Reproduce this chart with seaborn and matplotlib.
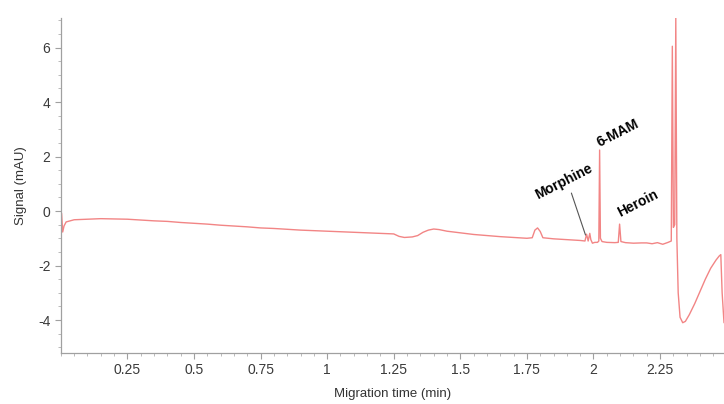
import numpy as np
import pandas as pd
import matplotlib
matplotlib.use("Agg")
import matplotlib.pyplot as plt
from matplotlib.ticker import MultipleLocator
import seaborn as sns

# ── Electropherogram trace ──────────────────────────────────────────────────
time_min = [
    0.000, 0.003, 0.007, 0.012, 0.020, 0.050, 0.100, 0.150, 0.200, 0.250,
    0.300, 0.350, 0.400, 0.450, 0.500, 0.550, 0.600, 0.650, 0.700, 0.750,
    0.800, 0.850, 0.900, 0.950, 1.000, 1.050, 1.100, 1.150, 1.200, 1.250,
    1.270, 1.290, 1.320, 1.340, 1.360, 1.380, 1.400, 1.420, 1.450, 1.500,
    1.550, 1.600, 1.650, 1.700, 1.750, 1.770, 1.780, 1.790, 1.800, 1.810,
    1.850, 1.900, 1.950, 1.968, 1.974, 1.980, 1.986, 1.990, 1.996, 2.005,
    2.015, 2.020, 2.023, 2.026, 2.032, 2.050, 2.080, 2.093, 2.098, 2.103,
    2.120, 2.150, 2.180, 2.200, 2.220, 2.240, 2.260, 2.280, 2.292, 2.296,
    2.300, 2.305, 2.309, 2.313, 2.318, 2.325, 2.335, 2.345, 2.360, 2.380,
    2.400, 2.420, 2.440, 2.460, 2.472, 2.478, 2.483, 2.490,
]
signal_mau = [
    0.00, -0.10, -0.77, -0.55, -0.40, -0.32, -0.30, -0.28, -0.29, -0.30,
    -0.33, -0.36, -0.38, -0.42, -0.45, -0.48, -0.52, -0.55, -0.58, -0.62,
    -0.64, -0.67, -0.70, -0.72, -0.74, -0.76, -0.78, -0.80, -0.82, -0.84,
    -0.93, -0.97, -0.95, -0.90, -0.78, -0.70, -0.66, -0.68, -0.74, -0.80,
    -0.86, -0.90, -0.94, -0.97, -1.00, -0.98, -0.70, -0.62, -0.75, -0.98,
    -1.02, -1.05, -1.08, -1.10, -0.85, -1.10, -0.82, -1.05, -1.18, -1.15,
    -1.15, -1.10, 2.24, -1.00, -1.12, -1.15, -1.16, -1.15, -0.48, -1.12,
    -1.16, -1.18, -1.17, -1.17, -1.20, -1.16, -1.22, -1.15, -1.10, 6.05,
    -0.60, -0.50, 7.10, -1.00, -3.00, -3.90, -4.10, -4.05, -3.80, -3.40,
    -2.95, -2.50, -2.10, -1.80, -1.65, -1.60, -3.00, -4.10,
]

# ── Peak labels ──────────────────────────────────────────────────────────────
peak_names = ["Morphine", "6-MAM", "Heroin"]
label_t = [1.887, 2.090, 2.165]
label_s = [1.10, 2.86, 0.29]

df = pd.DataFrame({"t": time_min, "s": signal_mau})

sns.set_style("ticks")
plt.rcParams["font.family"] = ["Liberation Sans", "DejaVu Sans"]
plt.rcParams["axes.unicode_minus"] = False

fig = plt.figure(figsize=(7.24, 4.04), dpi=100)
ax = fig.add_axes([0.084, 0.127, 0.916, 0.828])

sns.lineplot(data=df, x="t", y="s", ax=ax, color="#f28585", linewidth=1.0,
             sort=False, estimator=None)

for name, tx, sy in zip(peak_names, label_t, label_s):
    ax.text(tx, sy, name, rotation=27, ha="center", va="center",
            fontsize=10, fontweight="bold", color="black")

# pointer from Morphine label to its peak
ax.plot([1.917, 1.970], [0.66, -0.88], color="#555555", linewidth=0.8)

ax.set_xlim(0, 2.49)
ax.set_ylim(-5.2, 7.08)
ax.xaxis.set_major_locator(MultipleLocator(0.25))
ax.xaxis.set_minor_locator(MultipleLocator(0.05))
ax.yaxis.set_major_locator(MultipleLocator(2))
ax.yaxis.set_minor_locator(MultipleLocator(0.5))
ax.set_xticks([0.25, 0.5, 0.75, 1, 1.25, 1.5, 1.75, 2, 2.25])
ax.set_xticklabels(["0.25", "0.5", "0.75", "1", "1.25", "1.5", "1.75", "2", "2.25"])

ax.tick_params(axis="both", which="major", length=4, width=0.8,
               color="#a0a0a0", labelsize=10, labelcolor="#3a3a3a")
ax.tick_params(axis="both", which="minor", length=2, width=0.6, color="#b0b0b0")

for side in ["top", "right"]:
    ax.spines[side].set_visible(False)
for side in ["left", "bottom"]:
    ax.spines[side].set_color("#a0a0a0")
    ax.spines[side].set_linewidth(0.9)

ax.set_xlabel("Migration time (min)", fontsize=9.5, color="#333333", labelpad=8)
ax.set_ylabel("Signal (mAU)", fontsize=9.5, color="#333333", labelpad=8)

fig.savefig("out.png", dpi=100)
